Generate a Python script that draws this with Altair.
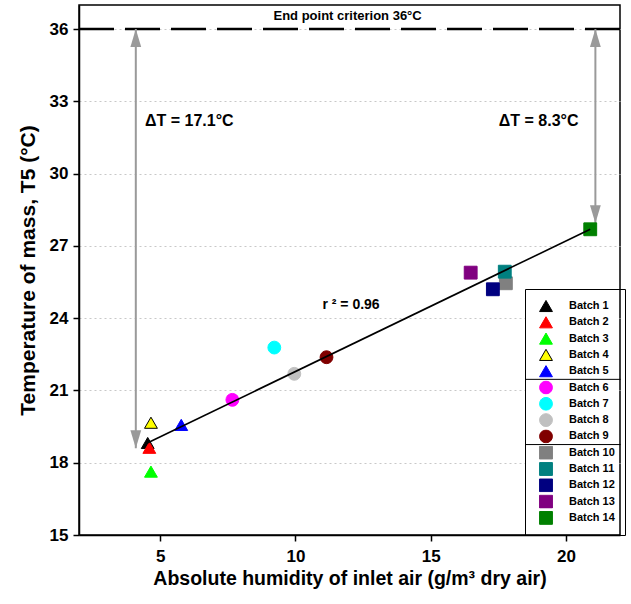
import altair as alt
import pandas as pd

# ---------------- data ----------------
batches = [f"Batch {i}" for i in range(1, 15)]
humidity = [4.54, 4.60, 4.66, 4.66, 5.78, 7.67, 9.22, 9.96, 11.15,
            17.78, 17.74, 17.30, 16.48, 20.90]
temperature = [18.82, 18.62, 17.63, 19.66, 19.57, 20.61, 22.78, 21.69, 22.38,
               25.45, 25.93, 25.20, 25.89, 27.69]
fill_colors = ["#000000", "#ff0000", "#00ff00", "#ffff00", "#0000ff",
               "#ff00ff", "#00ffff", "#c0c0c0", "#800000",
               "#808080", "#008080", "#000080", "#800080", "#008000"]
stroke_colors = ["#000000", "#ff0000", "#00ff00", "#000000", "#0000ff",
                 "#ff00ff", "#00ffff", "#c0c0c0", "#800000",
                 "#808080", "#008080", "#000080", "#800080", "#008000"]
shapes = ["triangle-up"] * 5 + ["circle"] * 4 + ["square"] * 5

fit_x = [4.45, 20.90]
fit_y = [18.78, 27.69]

criterion = [36]
arrow_x = [4.1, 21.09]
arrow_top = [36, 36]
arrow_low = [18.6, 27.94]

x_ticks = [5, 10, 15, 20]
y_ticks = [15, 18, 21, 24, 27, 30, 33, 36]

note_crit = {"x": [11.93], "y": [36.55], "text": ["End point criterion 36°C"]}
note_delta = {"x": [4.44, 17.52], "y": [32.19, 32.19], "text": ["ΔT = 17.1°C", "ΔT = 8.3°C"]}
note_r2 = {"x": [11.0], "y": [24.55], "text": ["r ² = 0.96"]}

# ---------------- layout ----------------
FONT = "Liberation Sans"
W, H = 541, 530
PAD = {"left": 79, "top": 5, "right": 11, "bottom": 69}

LEG_X, LEG_Y, LEG_PAD = 446, 284, 10
CLIP_H, ROW_PAD = 14, 2.3
leg_w = 95.6
sep_y = [LEG_Y + LEG_PAD + k * CLIP_H + (k - 1) * ROW_PAD + ROW_PAD / 2 for k in (5, 9)]

x_scale = alt.Scale(domain=[2, 22], nice=False, zero=False)
y_scale = alt.Scale(domain=[15, 37], nice=False, zero=False)
XT = "Absolute humidity of inlet air (g/m³ dry air)"
YT = "Temperature of mass, T5 (°C)"
x_axis = alt.Axis(values=x_ticks, grid=False, titleY=43, titleBaseline="middle", labelPadding=7,
                  titleFontSize=19.5)
y_axis = alt.Axis(values=y_ticks, grid=True, gridColor="#c8c8c8", gridDash=[2, 3],
                  gridWidth=1, titleX=-51, titleBaseline="middle", titleFontSize=21)


def X(field="x"):
    return alt.X(f"{field}:Q", scale=x_scale, axis=x_axis, title=XT)


def Y(field="y"):
    return alt.Y(f"{field}:Q", scale=y_scale, axis=y_axis, title=YT)


pts = pd.DataFrame({"batch": batches, "x": humidity, "y": temperature})
fit = pd.DataFrame({"x": fit_x, "y": fit_y})
crit = pd.DataFrame({"y": criterion})
arr = pd.DataFrame({"x": arrow_x, "y": arrow_top, "y2": arrow_low})
one = alt.Data(values=[{"a": 1}])

legend = alt.Legend(orient="none", legendX=LEG_X, legendY=LEG_Y, direction="vertical",
                    padding=LEG_PAD, strokeColor="black", title=None,
                    labelFont=FONT, labelFontSize=11, labelFontWeight="bold", labelColor="black",
                    symbolSize=165, symbolStrokeWidth=1, rowPadding=ROW_PAD, clipHeight=CLIP_H,
                    labelOffset=16, symbolOffset=4)

leg_bg = alt.Chart(one).mark_rect(color="white").encode(
    x=alt.value(LEG_X), x2=alt.value(W - 1), y=alt.value(LEG_Y), y2=alt.value(H - 1))

seps = [alt.Chart(one).mark_rule(color="black", strokeWidth=1).encode(
    x=alt.value(LEG_X), x2=alt.value(LEG_X + leg_w), y=alt.value(sy)) for sy in sep_y]

points = alt.Chart(pts).mark_point(filled=True, opacity=1, size=165, strokeWidth=1).encode(
    x=X(), y=Y(),
    fill=alt.Fill("batch:N", scale=alt.Scale(domain=batches, range=fill_colors), legend=legend),
    stroke=alt.Stroke("batch:N", scale=alt.Scale(domain=batches, range=stroke_colors), legend=legend),
    shape=alt.Shape("batch:N", scale=alt.Scale(domain=batches, range=shapes), legend=legend),
)

fit_line = alt.Chart(fit).mark_line(color="black", strokeWidth=1.6).encode(x=X(), y=Y())

crit_line = alt.Chart(crit).mark_rule(color="black", strokeWidth=2.5, strokeDash=[35, 11]).encode(y=Y())

GRAY = "#9a9a9a"
arrow_rule = alt.Chart(arr).mark_rule(color=GRAY, strokeWidth=2).encode(x=X(), y=Y(), y2="y2:Q")
head_up = alt.Chart(arr).mark_point(shape="M-0.6,1L0.6,1L0,-1Z", filled=True, opacity=1,
                                    size=324, color=GRAY, strokeWidth=0, yOffset=9).encode(x=X(), y=Y())
head_down = alt.Chart(arr).mark_point(shape="M-0.6,-1L0.6,-1L0,1Z", filled=True, opacity=1,
                                      size=324, color=GRAY, strokeWidth=0, yOffset=-9).encode(
    x=X(), y=Y("y2"))

t_crit = alt.Chart(pd.DataFrame(note_crit)).mark_text(
    font=FONT, fontSize=13, fontWeight="bold", color="black", align="center", baseline="middle"
).encode(x=X(), y=Y(), text="text:N")
t_delta = alt.Chart(pd.DataFrame(note_delta)).mark_text(
    font=FONT, fontSize=16, fontWeight="bold", color="black", align="left", baseline="middle"
).encode(x=X(), y=Y(), text="text:N")
t_r2 = alt.Chart(pd.DataFrame(note_r2)).mark_text(
    font=FONT, fontSize=14, fontWeight="bold", color="black", align="left", baseline="middle"
).encode(x=X(), y=Y(), text="text:N")

chart = alt.layer(
    leg_bg, *seps, crit_line, arrow_rule, head_up, head_down, points, fit_line,
    t_crit, t_delta, t_r2
).properties(
    width=W, height=H,
    autosize=alt.AutoSizeParams(type="none"),
    padding=PAD,
).configure_view(
    stroke="black", strokeWidth=1.5
).configure_axis(
    domainColor="black", domainWidth=1.5, tickColor="black", tickWidth=1.5, tickSize=6,
    labelFont=FONT, labelFontSize=17, labelFontWeight="bold", labelColor="black", labelPadding=5,
    titleFont=FONT, titleFontSize=19, titleFontWeight="bold", titleColor="black",
)

chart.save("out.html", embed_options={"renderer": "svg", "actions": False})
